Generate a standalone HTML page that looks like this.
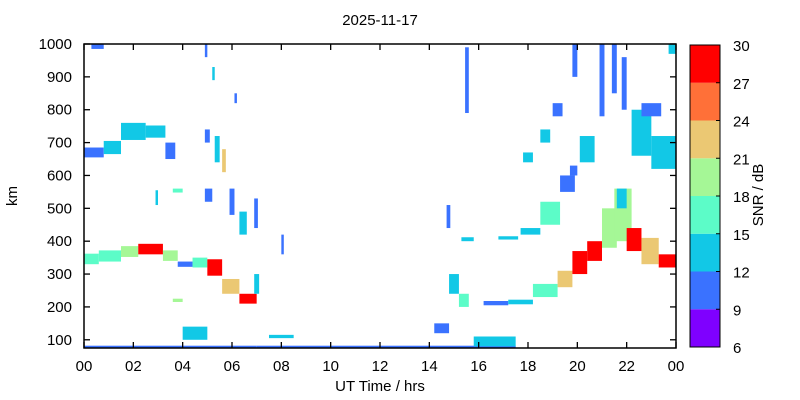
<!DOCTYPE html>
<html><head><meta charset="utf-8"><style>
html,body{margin:0;padding:0;background:#fff;}
svg{display:block;font-family:"Liberation Sans",sans-serif;}
</style></head><body>
<svg id="chart" width="800" height="400" viewBox="0 0 800 400">
<text x="380" y="25" font-size="15" text-anchor="middle">2025-11-17</text>
<g id="marks"></g>
<g id="axes"></g>
<rect x="84" y="44" width="592" height="304" fill="none" stroke="#000" stroke-width="1.5"/>
<text x="380" y="391" font-size="15" text-anchor="middle">UT Time / hrs</text>
<text x="17" y="196" font-size="15" text-anchor="middle" transform="rotate(-90 17 196)">km</text>
<g id="cbar"></g>
<text x="763" y="195" font-size="15" text-anchor="middle" transform="rotate(-90 763 195)">SNR / dB</text>
</svg>
<script>
const startHr = [0,0.6,1.5,2.2,3.2,3.8,4.4,5.0,5.6,6.3,6.9, 0,0.8,1.5,2.5,3.3, 4.9,5.3,5.6,5.9,6.3,6.9,4.9,2.9,3.6,4.0,8.0,4.9,5.2,0.3,6.1,3.6, 0,7,14,14.2,15.8,7.5, 15.45,14.7,14.8,15.2,16.2,17.2,18.2,19.2,19.8,20.4,21.0,21.5,21.6,22.0,22.6,23.3, 15.3,16.8,17.7,18.5,19.3,19.7,20.1,17.8,18.5,19.0,19.8,20.9,21.4,21.8,22.2,23.0,22.6,23.7];
const endHr   = [0.6,1.5,2.2,3.2,3.8,4.4,5.0,5.6,6.3,7.0,7.1, 0.8,1.5,2.5,3.3,3.7, 5.1,5.5,5.75,6.1,6.6,7.05,5.2,3.0,4.0,5.0,8.1,5.0,5.3,0.8,6.2,4.0, 7,14,17.5,14.8,17.5,8.5, 15.6,14.85,15.2,15.6,17.2,18.2,19.2,19.8,20.4,21.0,21.6,22.2,22.0,22.6,23.3,24, 15.8,17.6,18.5,19.3,19.9,20.0,20.7,18.2,18.9,19.4,20.0,21.1,21.6,22.0,23.0,24,23.4,24];
const lowKm   = [330,338,352,360,340,322,320,295,240,210,240, 655,665,708,715,650, 700,640,610,480,420,440,520,510,215,100,360,960,890,985,820,548, 76,76,76,120,80,105, 790,440,240,200,205,208,230,260,300,340,380,400,500,370,330,320, 400,405,420,450,550,600,640,640,700,780,900,780,850,800,660,620,780,970];
const highKm  = [362,372,385,392,372,338,350,345,285,240,300, 685,705,760,752,700, 740,720,680,560,490,530,560,555,225,140,420,1000,930,1000,850,560, 82,82,82,150,110,115, 990,510,300,240,218,222,270,310,370,400,500,560,560,440,410,360, 412,415,440,520,600,630,720,670,740,820,1000,1000,1000,960,800,720,820,1000];
const snrDb   = [16,16,19,28,19,10,16,28,22,28,13, 10,13,13,13,10, 10,13,22,10,13,10,10,13,19,13,10,10,13,10,10,16, 10,10,10,10,13,13, 10,10,13,16,10,13,16,22,28,28,19,19,13,28,22,28, 13,13,13,16,10,10,13,13,13,10,10,10,10,10,13,13,10,13];
const xTicks = ["00","02","04","06","08","10","12","14","16","18","20","22","00"];
const yTicks = [100,200,300,400,500,600,700,800,900,1000];
const cbTicks = [6,9,12,15,18,21,24,27,30];
const cbColors = ["#7f00ff","#3a72ff","#12c8e6","#5cfcc8","#a5f796","#ebc873","#ff7038","#ff0000"];

const NS="http://www.w3.org/2000/svg";
const X0=84,X1=676,Y0=44,Y1=348,KMIN=75,KMAX=1000;
function xs(h){return X0+(h/24)*(X1-X0);}
function ys(k){return Y1-(k-KMIN)/(KMAX-KMIN)*(Y1-Y0);}
function color(s){let i=Math.floor((s-6)/3);i=Math.max(0,Math.min(7,i));return cbColors[i];}
function mk(tag,attrs,parent){const e=document.createElementNS(NS,tag);for(const k in attrs)e.setAttribute(k,attrs[k]);parent.appendChild(e);return e;}

const marks=document.getElementById('marks');
for(let i=0;i<startHr.length;i++){
  const r=mk('rect',{x:xs(startHr[i]),y:ys(highKm[i]),width:Math.max(2,xs(endHr[i])-xs(startHr[i])),height:Math.max(2,ys(lowKm[i])-ys(highKm[i])),fill:color(snrDb[i])},marks);
  
  
}
const axes=document.getElementById('axes');
xTicks.forEach((t,i)=>{
  const x=xs(i*2);
  const a=mk('line',{x1:x,x2:x,y1:Y1,y2:Y1-6,stroke:'#000','stroke-width':1.3},axes);
  
  
  const b=mk('line',{x1:x,x2:x,y1:Y0,y2:Y0+6,stroke:'#000','stroke-width':1.3},axes);
  
  
  const tx=mk('text',{x:x,y:371,'font-size':15,'text-anchor':'middle'},axes);
  tx.textContent=t;
  
  
});
yTicks.forEach(v=>{
  const y=ys(v);
  const a=mk('line',{x1:X0,x2:X0+6,y1:y,y2:y,stroke:'#000','stroke-width':1.3},axes);
  
  
  const b=mk('line',{x1:X1,x2:X1-6,y1:y,y2:y,stroke:'#000','stroke-width':1.3},axes);
  
  
  const tx=mk('text',{x:72,y:y+5,'font-size':15,'text-anchor':'end'},axes);
  tx.textContent=v;
  
  
});
const cbar=document.getElementById('cbar');
const CX=690,CW=30,CT=45,CB=347;
function cy(v){return CB-(v-6)/24*(CB-CT);}
cbColors.forEach((c,i)=>{
  const r=mk('rect',{x:CX,y:cy(cbTicks[i+1]),width:CW,height:cy(cbTicks[i])-cy(cbTicks[i+1]),fill:c},cbar);
  
  
});
const fr=mk('rect',{x:CX,y:CT,width:CW,height:CB-CT,fill:'none',stroke:'#000','stroke-width':1},cbar);


cbTicks.forEach(v=>{
  const y=cy(v);
  const l=mk('line',{x1:CX+CW-4,x2:CX+CW,y1:y,y2:y,stroke:'#000'},cbar);
  
  
  const t=mk('text',{x:733,y:y+6,'font-size':15},cbar);
  t.textContent=v;
  
  
});
</script>
</body></html>
